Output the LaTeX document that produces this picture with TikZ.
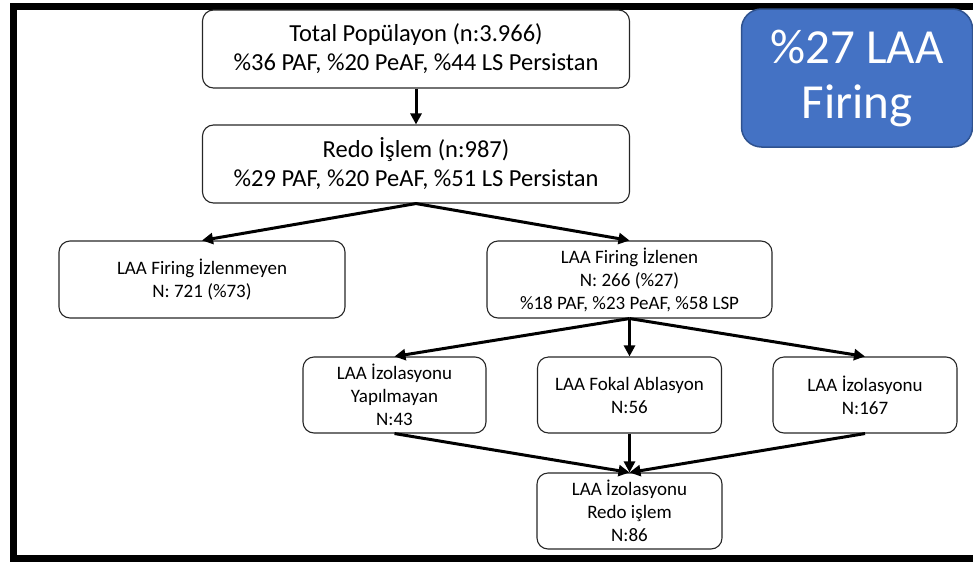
\documentclass[tikz,border=0pt]{standalone}
\usepackage{fontspec}
\setmainfont{Carlito}
\usetikzlibrary{arrows.meta}
\definecolor{boxblue}{HTML}{4472C4}
\definecolor{boxblueedge}{HTML}{2F528F}
\begin{document}
\begin{tikzpicture}[x=1pt,y=1pt,
  box/.style={draw=black!85, line width=1.1pt, rounded corners=11pt, align=center, inner sep=0pt},
  bigbox/.style={box, minimum width=427pt, minimum height=78pt, font=\fontsize{24.5}{29}\selectfont},
  smallbox/.style={box, minimum height=77pt, font=\fontsize{19}{23}\selectfont},
  arr/.style={line width=3pt, -{Triangle[length=11pt,width=11pt]}},
]
\useasboundingbox (0,0) rectangle (973,-562);
% frame
\draw[line width=7pt] (973,-6.5) -- (13.5,-6.5) -- (13.5,-558.5) -- (973,-558.5);
% nodes
\node[bigbox] (b1) at (416,-49) {Total Popülayon (n:3.966)\\\%36 PAF, \%20 PeAF, \%44 LS Persistan};
\node[bigbox] (b2) at (416,-164) {Redo İşlem (n:987)\\\%29 PAF, \%20 PeAF, \%51 LS Persistan};
\node[smallbox, minimum width=286pt] (b3) at (202,-279.5) {LAA Firing İzlenmeyen\\N: 721 (\%73)};
\node[smallbox, minimum width=285pt] (b4) at (629.5,-279.5) {LAA Firing İzlenen\\N: 266 (\%27)\\\%18 PAF, \%23 PeAF, \%58 LSP};
\node[smallbox, minimum width=183pt, minimum height=76pt] (b5) at (394.5,-395) {LAA İzolasyonu\\Yapılmayan\\N:43};
\node[smallbox, minimum width=184pt, minimum height=76pt] (b6) at (629.5,-395) {LAA Fokal Ablasyon\\N:56};
\node[smallbox, minimum width=184pt, minimum height=76pt] (b7) at (865,-395) {LAA İzolasyonu\\N:167};
\node[smallbox, minimum width=185pt, minimum height=76pt] (b8) at (629.5,-511) {LAA İzolasyonu\\Redo işlem\\N:86};
\node[draw=boxblueedge, line width=1.5pt, fill=boxblue, rounded corners=20pt, minimum width=231pt, minimum height=138pt, inner sep=0pt, align=center, text=white, font=\fontsize{49}{55}\selectfont] (hl) at (857,-78) {\%27 LAA\\Firing};
% arrows
\draw[arr] (b1.south) -- (b2.north);
\draw[arr] (b2.south) -- (b3.north);
\draw[arr] (b2.south) -- (b4.north);
\draw[arr] (b4.south) -- (b5.north);
\draw[arr] (b4.south) -- (b6.north);
\draw[arr] (b4.south) -- (b7.north);
\draw[arr] (b5.south) -- (b8.north);
\draw[arr] (b6.south) -- (b8.north);
\draw[arr] (b7.south) -- (b8.north);
\end{tikzpicture}
\end{document}
